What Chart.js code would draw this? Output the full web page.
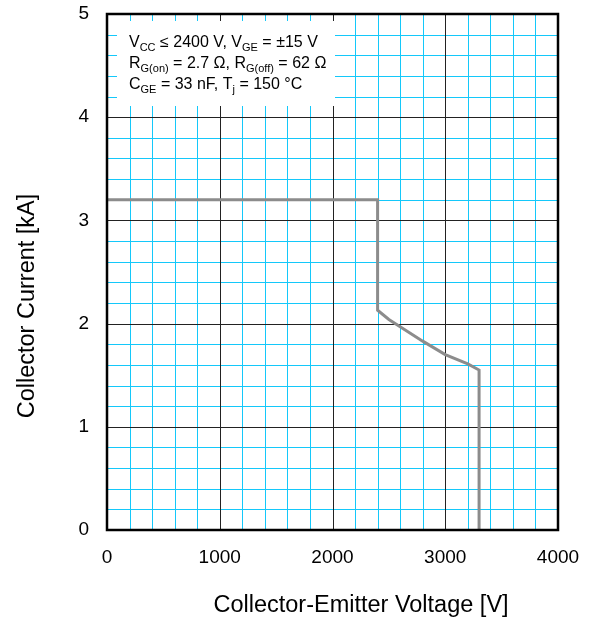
<!DOCTYPE html>
<html>
<head>
<meta charset="utf-8">
<script src="https://cdn.jsdelivr.net/npm/chart.js@4"></script>
<style>
  html, body { margin: 0; padding: 0; background: #fff; }
  #wrap { width: 592px; height: 620px; }
</style>
</head>
<body>
<div id="wrap"><canvas id="soa-chart" width="592" height="620"></canvas></div>
<script>
// RBSOA boundary
const voltage = [0, 2400, 2400, 2500, 2600, 2800, 3000, 3200, 3300, 3300];
const current = [3.2, 3.2, 2.13, 2.04, 1.97, 1.83, 1.70, 1.61, 1.55, 0];

const xTickLabels = [0, 1000, 2000, 3000, 4000];
const yTickLabels = [0, 1, 2, 3, 4, 5];

const xTitle = "Collector-Emitter Voltage [V]";
const yTitle = "Collector Current [kA]";

const noteLines = [
  [["V", 0], ["CC", 1], [" \u2264 2400 V, V", 0], ["GE", 1], [" = \u00b115 V", 0]],
  [["R", 0], ["G(on)", 1], [" = 2.7 \u03a9, R", 0], ["G(off)", 1], [" = 62 \u03a9", 0]],
  [["C", 0], ["GE", 1], [" = 33 nF, T", 0], ["j", 1], [" = 150 \u00b0C", 0]]
];

const FONT = '"Liberation Sans", Arial, sans-serif';
Chart.defaults.font.family = FONT;
Chart.defaults.color = "#000";

const isMajor = (v, list) => list.some(t => Math.abs(t - v) < 1e-6);

const cyan = "rgb(20, 200, 250)";
const majorGrid = "#222";

// grid drawn from the scales' own ticks, minor cyan first, majors on top
function drawGrid(chart) {
  const ctx = chart.ctx;
  const a = chart.chartArea;
  const xs = chart.scales.x, ys = chart.scales.y;
  ctx.save();
  ctx.lineWidth = 1;
  [false, true].forEach(major => {
    ctx.strokeStyle = major ? majorGrid : cyan;
    ctx.beginPath();
    xs.ticks.forEach(t => {
      if (isMajor(t.value, xTickLabels) !== major) return;
      const px = Math.round(xs.getPixelForValue(t.value)) + 0.5;
      ctx.moveTo(px, a.top);
      ctx.lineTo(px, a.bottom);
    });
    ys.ticks.forEach(t => {
      if (isMajor(t.value, yTickLabels) !== major) return;
      const py = Math.round(ys.getPixelForValue(t.value)) + 0.5;
      ctx.moveTo(a.left, py);
      ctx.lineTo(a.right, py);
    });
    ctx.stroke();
  });
  ctx.restore();
}

const notePlugin = {
  id: "note",
  beforeDatasetsDraw(chart) {
    drawGrid(chart);
    const ctx = chart.ctx;
    const a = chart.chartArea;
    ctx.save();
    ctx.fillStyle = "#fff";
    ctx.fillRect(a.left + 10, a.top + 7, 218, 85);
    ctx.fillStyle = "#000";
    ctx.textBaseline = "alphabetic";
    let y = a.top + 33;
    noteLines.forEach(parts => {
      let x = a.left + 22;
      parts.forEach(([txt, sub]) => {
        ctx.font = sub ? "11px " + FONT : "16px " + FONT;
        ctx.fillText(txt, x, sub ? y + 4 : y);
        x += ctx.measureText(txt).width;
      });
      y += 21;
    });
    ctx.restore();
  },
  afterDraw(chart) {
    const ctx = chart.ctx;
    const a = chart.chartArea;
    ctx.save();
    ctx.strokeStyle = "#000";
    ctx.lineWidth = 2.5;
    ctx.strokeRect(a.left, a.top, a.right - a.left, a.bottom - a.top);

    // axis titles
    ctx.font = "23.5px " + FONT;
    ctx.textAlign = "center";
    ctx.textBaseline = "middle";
    ctx.fillText(xTitle, 361, 606);
    ctx.translate(28, 306);
    ctx.rotate(-Math.PI / 2);
    ctx.fillText(yTitle, 0, 0);
    ctx.restore();
  }
};

new Chart(document.getElementById("soa-chart"), {
  type: "line",
  data: {
    datasets: [{
      data: voltage.map((v, i) => ({ x: v, y: current[i] })),
      borderColor: "#8c8c8c",
      borderWidth: 3,
      pointRadius: 0,
      tension: 0,
      fill: false
    }]
  },
  options: {
    responsive: false,
    animation: false,
    layout: { padding: { top: 14, right: 34, left: 0, bottom: 0 } },
    plugins: { legend: { display: false }, tooltip: { enabled: false } },
    scales: {
      x: {
        type: "linear",
        min: 0, max: 4000,
        afterFit(scale) {
          scale.height = 90;
          scale.paddingLeft = 0;
          scale.paddingRight = 0;
        },
        border: { display: false },
        grid: { display: false, drawTicks: false },
        ticks: {
          stepSize: 200,
          autoSkip: false,
          maxRotation: 0,
          padding: 16,
          font: { size: 19 },
          callback: v => isMajor(v, xTickLabels) ? String(Math.round(v)) : ""
        }
      },
      y: {
        type: "linear",
        min: 0, max: 5,
        afterFit(scale) {
          scale.width = 107;
          scale.paddingTop = 0;
          scale.paddingBottom = 0;
        },
        border: { display: false },
        grid: { display: false, drawTicks: false },
        ticks: {
          stepSize: 0.2,
          autoSkip: false,
          padding: 18,
          font: { size: 19 },
          callback: v => isMajor(v, yTickLabels) ? String(Math.round(v)) : ""
        }
      }
    }
  },
  plugins: [notePlugin]
});
</script>
</body>
</html>
